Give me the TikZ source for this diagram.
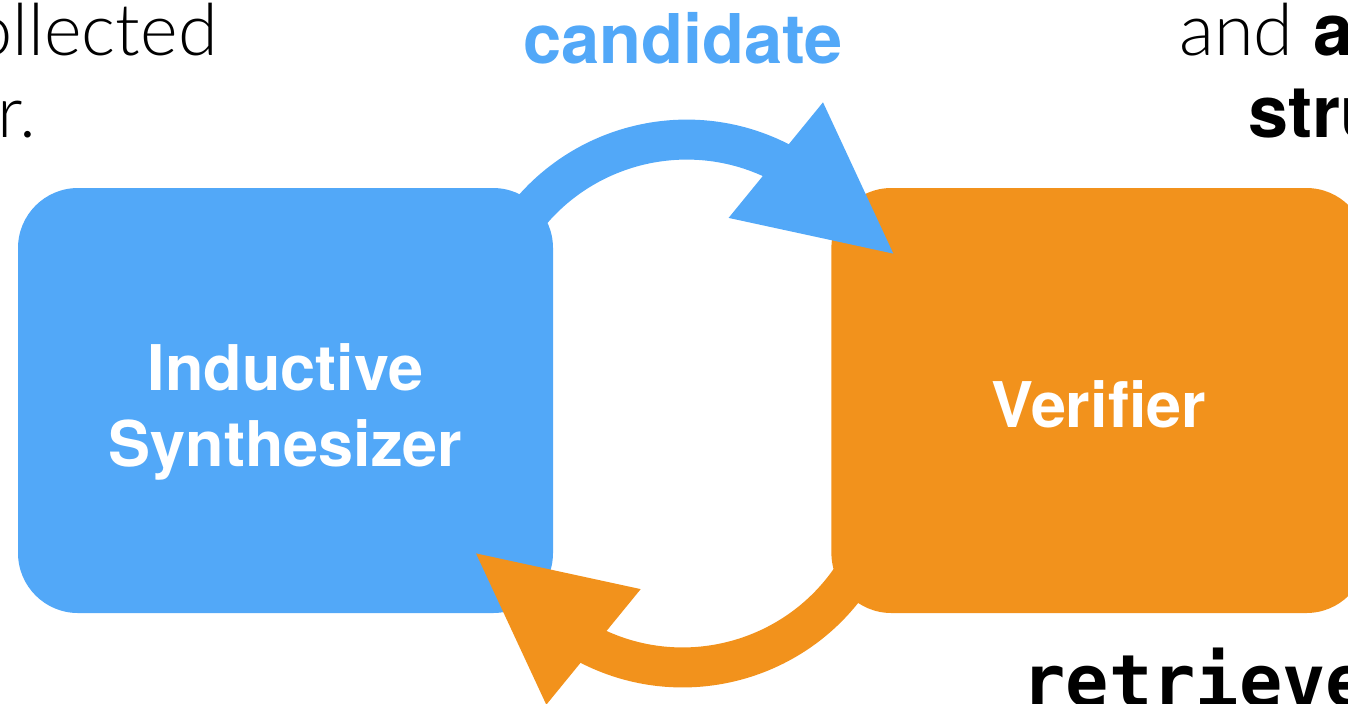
\documentclass[tikz,border=0pt]{standalone}
\usepackage{fontspec}
\setmainfont{TeX Gyre Heros}
\newfontfamily\lightfont{Lato Light}
\newfontfamily\codefont{DejaVu Sans Mono}
\usetikzlibrary{positioning,calc}
\definecolor{SynthBlue}{HTML}{52A8F8}
\definecolor{VerifOrange}{HTML}{F2921C}

\begin{document}
\begin{tikzpicture}[
    x=0.5pt, y=-0.5pt,
    stage/.style={rectangle, rounded corners=30pt, minimum width=267.5pt, minimum height=212.5pt,
      inner sep=0pt, text=white, align=center, text depth=0pt,
      font=\bfseries\fontsize{31.5pt}{38pt}\selectfont},
    bodyText/.style={inner sep=0pt, font=\lightfont\fontsize{36pt}{41pt}\selectfont},
    loopLabel/.style={inner sep=0pt, font=\bfseries\fontsize{34.3pt}{41pt}\selectfont},
    codeText/.style={inner sep=0pt, font=\codefont\bfseries\fontsize{36pt}{41pt}\selectfont},
    shaft/.style={line width=20pt},
  ]
  \useasboundingbox (0,0) rectangle (1348,703);
  % the two stages
  \node[stage, fill=SynthBlue, text height=65.5pt] (synth) at (285.5,400.5) {Inductive\\Synthesizer};
  \node[stage, fill=VerifOrange, text height=26.5pt, right=138.8pt of synth] (verif) {Verifier};
  % candidate: synthesizer -> verifier
  \path (synth.north east) ++(-43.8,54.2) coordinate (candFrom);
  \path (verif.north west) ++(62.3,66) coordinate (candTip);
  \draw[shaft, SynthBlue] (candFrom) arc[start angle=210, end angle=298, radius=204.4];
  \fill[SynthBlue] (candTip) -- ++(-70.3,-151.3) -- ++(-94.4,115.6) -- cycle;
  % the way back: verifier -> synthesizer
  \path (verif.south west) ++(28.7,-48.2) coordinate (backFrom);
  \path (synth.south east) ++(-77.4,-60) coordinate (backTip);
  \draw[shaft, VerifOrange] (backFrom) arc[start angle=30, end angle=118, radius=204.4];
  \fill[VerifOrange] (backTip) -- ++(70.3,151.3) -- ++(94.4,-115.6) -- cycle;
  % labels
  \node[loopLabel, text=SynthBlue, anchor=base] (candLbl) at (683,63) {candidate};
  \node[bodyText, anchor=base east] (collectedTxt) at (218,55) {ollected};
  \node[bodyText, anchor=base east] (farTxt) at (37,137) {ar.};
  \node[bodyText, anchor=base west] (andTxt) at (1179,55) {and {\normalfont\bfseries a}};
  \node[bodyText, anchor=base west] (struTxt) at (1248,137) {\normalfont\bfseries stru};
  \node[codeText, anchor=base west] (retrieveTxt) at (1022,706) {retrieve};
\end{tikzpicture}
\end{document}
